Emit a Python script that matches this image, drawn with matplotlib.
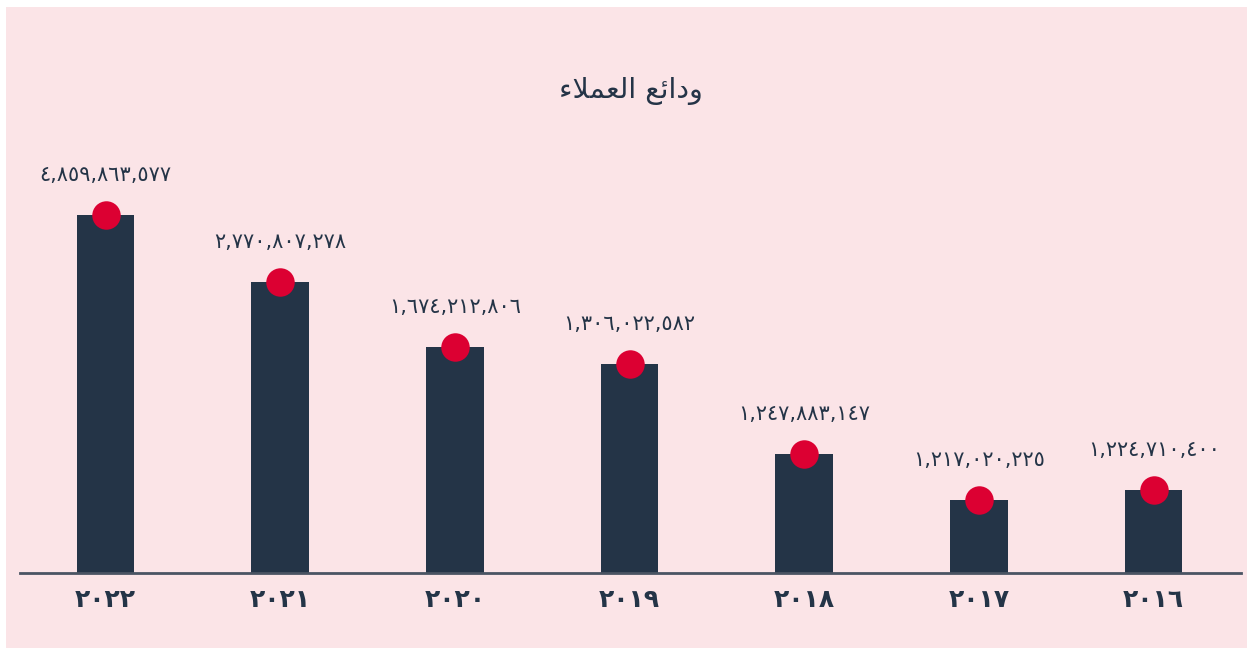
import matplotlib
matplotlib.use("Agg")
import matplotlib.pyplot as plt
from matplotlib.patches import Rectangle

# data
years = [2022, 2021, 2020, 2019, 2018, 2017, 2016]
deposits = [4859863577, 2770807278, 1674212806, 1306022582, 1247883147, 1217020225, 1224710400]
# drawn bar heights (the chart does not scale bars to the values)
bar_heights = [358, 291, 226, 209, 119, 73, 83]

# "ودائع العملاء" written in presentation forms, visual order
title = "\uFE80\uFEFC\uFEE4\uFECC\uFEDF\uFE8D \uFECA\uFE8B\uFE8D\uFEA9\uFEED"

bg = "#fbe4e7"
navy = "#243447"
red = "#dc0032"

arabic_digits = str.maketrans("0123456789", "٠١٢٣٤٥٦٧٨٩")

def ar(s):
    return str(s).translate(arabic_digits)

plt.rcParams['font.family'] = ['DejaVu Sans']

fig = plt.figure(figsize=(12.53, 6.55), dpi=100, facecolor="white")
fig.patches.append(Rectangle((6/1253, 7/655), 1241/1253, 641/655,
                             transform=fig.transFigure, facecolor=bg,
                             edgecolor="none", zorder=-5))

ax = fig.add_axes([20/1253, 82/655, 1221/1253, 473/655])
ax.set_facecolor("none")
ax.set_zorder(2)

x = list(range(len(years)))
ax.bar(x, bar_heights, width=0.33, color=navy, zorder=2)
ax.plot(x, bar_heights, "o", color=red, markersize=20.5, markeredgewidth=0, zorder=3,
        clip_on=False)

for xi, h, v in zip(x, bar_heights, deposits):
    ax.annotate(ar(f"{v:,}"), (xi, h), xytext=(0, 29), textcoords="offset points",
                ha="center", va="center", fontsize=15, color=navy)

ax.set_xlim(-0.49, 6.5)
ax.set_ylim(0, 473)
ax.set_xticks(x)
ax.set_xticklabels([ar(y) for y in years], fontsize=18, fontweight="bold", color=navy)
ax.tick_params(axis="x", length=0, pad=11)
ax.set_yticks([])
for s in ["top", "right", "left"]:
    ax.spines[s].set_visible(False)
ax.spines["bottom"].set_color("#4a5463")
ax.spines["bottom"].set_linewidth(2)

fig.text(631/1253, 1 - 91/655, title, ha="center", va="center", fontsize=20.5,
         color=navy, zorder=3)

fig.savefig("out.png", dpi=100)
